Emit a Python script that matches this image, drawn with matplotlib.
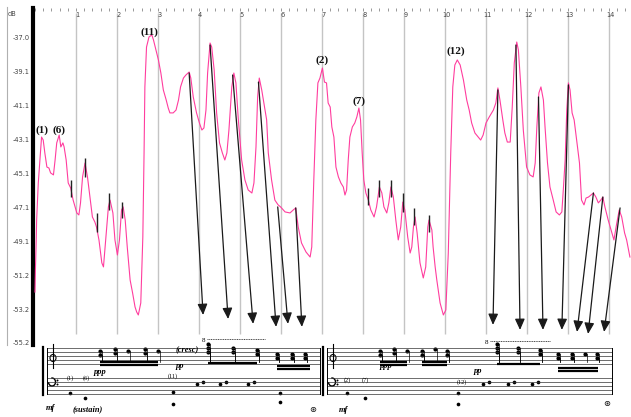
import numpy as np
import matplotlib.pyplot as plt
from matplotlib.lines import Line2D
from matplotlib.patches import Ellipse, Arc

# loudness envelope: time (s) and level (dB)
t = [0.00, 0.01, 0.03, 0.04, 0.08, 0.12, 0.16, 0.20, 0.24, 0.29, 0.34, 0.38, 0.45, 0.49, 0.53, 0.59,
     0.63, 0.68, 0.71, 0.76, 0.81, 0.87, 0.93, 1.02, 1.07, 1.11, 1.16, 1.22, 1.28, 1.34, 1.40, 1.46,
     1.50, 1.56, 1.63, 1.67, 1.73, 1.79, 1.83, 1.90, 1.95, 2.01, 2.06, 2.11, 2.15, 2.20, 2.25, 2.32,
     2.38, 2.44, 2.48, 2.52, 2.58, 2.63, 2.66, 2.68, 2.72, 2.78, 2.85, 2.89, 2.95, 3.01, 3.07, 3.13,
     3.20, 3.25, 3.29, 3.37, 3.44, 3.50, 3.55, 3.62, 3.68, 3.76, 3.80, 3.86, 3.94, 4.01, 4.07, 4.12,
     4.17, 4.21, 4.27, 4.31, 4.37, 4.43, 4.50, 4.57, 4.63, 4.68, 4.73, 4.80, 4.85, 4.90, 4.96, 5.04,
     5.12, 5.20, 5.29, 5.34, 5.39, 5.43, 5.47, 5.53, 5.61, 5.65, 5.69, 5.77, 5.85, 5.93, 5.99, 6.10,
     6.22, 6.30, 6.36, 6.42, 6.50, 6.61, 6.71, 6.75, 6.80, 6.85, 6.90, 6.95, 7.01, 7.06, 7.11, 7.15,
     7.20, 7.24, 7.29, 7.34, 7.40, 7.46, 7.52, 7.56, 7.60, 7.64, 7.68, 7.74, 7.80, 7.85, 7.90, 7.94,
     7.98, 8.02, 8.07, 8.13, 8.19, 8.27, 8.33, 8.40, 8.46, 8.51, 8.58, 8.63, 8.68, 8.74, 8.80, 8.86,
     8.92, 8.97, 9.02, 9.09, 9.15, 9.19, 9.23, 9.27, 9.32, 9.39, 9.47, 9.53, 9.58, 9.61, 9.68, 9.71,
     9.76, 9.80, 9.88, 9.96, 10.02, 10.08, 10.14, 10.19, 10.24, 10.30, 10.37, 10.45, 10.53, 10.59,
     10.65, 10.73, 10.81, 10.87, 10.93, 11.00, 11.08, 11.18, 11.24, 11.29, 11.34, 11.41, 11.46, 11.52,
     11.59, 11.64, 11.69, 11.75, 11.79, 11.85, 11.91, 11.99, 12.07, 12.15, 12.20, 12.24, 12.29, 12.34,
     12.40, 12.44, 12.50, 12.56, 12.64, 12.71, 12.79, 12.85, 12.89, 12.93, 12.97, 13.01, 13.05, 13.10,
     13.15, 13.21, 13.28, 13.33, 13.39, 13.44, 13.50, 13.56, 13.62, 13.68, 13.74, 13.80, 13.85, 13.90,
     13.98, 14.05, 14.12, 14.19, 14.25, 14.31, 14.38, 14.43, 14.51]
db = [-52.16, -50.84, -49.05, -47.86, -45.65, -44.28, -42.91, -43.09, -43.86, -44.70, -44.76, -45.05,
      -45.17, -44.28, -43.26, -42.79, -43.50, -43.26, -43.50, -44.28, -45.65, -45.95, -46.67, -47.44,
      -47.56, -46.84, -45.29, -44.46, -45.29, -46.49, -47.68, -47.98, -48.28, -49.05, -50.42, -50.66,
      -48.87, -47.08, -46.67, -47.44, -49.05, -49.95, -49.05, -47.26, -47.08, -47.86, -49.47, -51.44,
      -52.21, -53.05, -53.35, -53.53, -52.81, -48.87, -43.86, -39.92, -37.54, -36.94, -36.82, -37.12,
      -37.72, -38.31, -39.09, -40.10, -40.70, -41.18, -41.47, -41.47, -41.30, -40.70, -39.92, -39.39,
      -39.21, -39.03, -39.39, -40.52, -41.47, -42.07, -42.49, -42.37, -41.30, -39.09, -37.30, -37.54,
      -38.91, -41.47, -43.26, -43.86, -44.28, -43.86, -42.49, -39.92, -39.09, -39.68, -41.89, -44.28,
      -45.47, -46.07, -46.25, -45.65, -43.50, -40.52, -39.39, -40.10, -41.30, -41.89, -43.86, -45.47,
      -46.67, -46.96, -47.08, -47.38, -47.44, -47.26, -47.14, -48.28, -49.23, -49.77, -50.07, -49.47,
      -45.47, -41.89, -39.68, -39.39, -38.79, -39.63, -39.68, -40.88, -41.12, -42.31, -42.91, -44.70,
      -45.29, -45.65, -45.89, -46.37, -46.07, -44.28, -42.91, -42.31, -42.07, -41.71, -41.18, -41.89,
      -43.86, -45.47, -46.25, -46.67, -47.26, -47.68, -47.08, -45.89, -46.25, -47.08, -47.44, -46.84,
      -45.89, -46.49, -47.86, -49.05, -48.28, -46.79, -47.26, -48.87, -49.83, -49.47, -48.28, -47.68,
      -48.63, -50.42, -51.32, -50.66, -48.28, -47.86, -48.46, -49.47, -50.66, -51.44, -52.81, -53.53,
      -53.23, -49.83, -43.86, -39.92, -38.61, -38.31, -38.61, -39.51, -40.70, -41.30, -42.07, -42.67,
      -42.91, -43.09, -42.79, -42.07, -41.71, -41.30, -40.88, -39.98, -40.70, -41.89, -42.67, -43.21,
      -43.21, -41.12, -38.49, -37.24, -37.72, -39.92, -42.49, -44.70, -45.17, -45.29, -44.46, -42.31,
      -40.28, -39.92, -40.70, -42.31, -44.46, -45.89, -46.67, -47.38, -47.56, -47.38, -45.89, -44.28,
      -41.30, -39.68, -40.10, -41.47, -41.89, -43.09, -44.46, -46.67, -46.96, -46.55, -46.49, -46.37,
      -46.25, -46.49, -46.84, -46.67, -46.49, -47.08, -47.86, -48.46, -49.05, -48.04, -47.26, -47.68,
      -48.63, -49.05, -50.07]

# arrows from the envelope peaks down to the notes of the score
arrow_t0 = [3.76, 4.27, 4.82, 5.45, 5.92, 6.36, 11.29, 11.73, 12.28, 13.01, 13.62, 13.85, 14.27]
arrow_db0 = [-39.09, -37.42, -39.21, -39.63, -47.08, -47.14, -40.10, -37.42, -40.52, -39.80, -46.25, -46.49, -47.14]
arrow_t1 = [4.10, 4.71, 5.32, 5.88, 6.17, 6.51, 11.17, 11.83, 12.39, 12.85, 13.22, 13.49, 13.88]
arrow_db1 = [-53.53, -53.77, -54.06, -54.24, -54.06, -54.24, -54.12, -54.42, -54.42, -54.42, -54.54, -54.66, -54.54]

# short onset markers on the envelope
onset_t = [0.87, 1.22, 1.50, 1.81, 2.13, 8.13, 8.40, 8.68, 8.97, 9.25, 9.60]
onset_top = [-45.47, -44.16, -47.44, -46.25, -46.79, -45.95, -45.47, -45.47, -46.25, -47.14, -47.56]
onset_bot = [-46.49, -45.29, -48.58, -47.26, -47.74, -46.96, -46.49, -46.49, -47.38, -48.16, -48.58]

peak_labels = ['(1)', '(6)', '(11)', '(2)', '(7)', '(12)']
peak_t = [0.17, 0.59, 2.80, 7.00, 7.90, 10.27]
peak_db = [-42.5, -42.5, -36.64, -38.31, -40.76, -37.78]

ytick_labels = ['-37.0', '-39.1', '-41.1', '-43.1', '-45.1', '-47.1', '-49.1', '-51.2', '-53.2', '-55.2']
seconds = list(range(1, 15))

# score (drawn in figure pixel units, y down)
systems = [(47, 320), (327, 612)]
treble_lines = [348, 352, 356, 360, 364]
bass_lines = [378, 382, 386, 390, 394]
beams = [(100, 158, 362), (100, 158, 364.5), (208, 257, 363), (277, 310, 366), (277, 310, 369),
         (380, 407, 362), (380, 407, 364.5), (422, 447, 362), (422, 447, 364.5), (497, 540, 364),
         (558, 598, 368), (558, 598, 371)]
head_x = [100, 100, 115, 115, 128, 145, 145, 158, 208, 208, 208, 233, 233, 257, 257, 277, 277, 292, 292, 305, 305,
          380, 380, 394, 394, 407, 422, 422, 435, 447, 447, 497, 497, 497, 518, 518, 540, 540,
          558, 558, 572, 572, 585, 597, 597]
head_y = [351, 355, 349, 353, 351, 349, 353, 351, 344, 348, 352, 348, 352, 350, 354, 354, 358, 354, 358, 354, 358,
          351, 355, 349, 353, 351, 351, 355, 349, 351, 355, 344, 348, 352, 348, 352, 350, 354,
          354, 358, 354, 358, 354, 354, 358]
bass_head_x = [70, 85, 173, 173, 280, 280, 347, 365, 458, 458, 197, 203, 220, 226, 248, 254, 483, 489, 508, 514, 532, 538]
bass_head_y = [393, 398, 392, 404, 393, 402, 393, 398, 393, 404, 384, 382, 384, 382, 384, 382, 384, 382, 384, 382, 384, 382]
score_text = [('ppp', 100, 372), ('pp', 180, 366), ('(cresc)', 187, 350), ('mf', 50, 408),
              ('(sustain)', 88, 409), ('ppp', 386, 366), ('pp', 478, 371), ('mf', 343, 410)]
score_nums = [('(1)', 70, 378), ('(6)', 86, 378), ('(11)', 173, 376), ('(2)', 347, 380), ('(7)', 365, 380), ('(12)', 462, 382)]

W, H = 631, 417
fig = plt.figure(figsize=(W / 100, H / 100), dpi=100)
pink = '#ff3d9e'

ax = fig.add_axes([33 / W, 1 - 345 / H, (W - 33) / W, (345 - 8) / H])
ax.patch.set_visible(False)
ax.set_xlim(-2 / 41, (W - 35) / 41)
ax.set_ylim(-55.32, -35.21)

ax.vlines(seconds, -54.65, -35.5, color='#c4c4c4', lw=1.0, zorder=1)
ax.plot(t, db, color=pink, lw=0.8, zorder=3)
ax.vlines(onset_t, onset_bot, onset_top, color='#222222', lw=1.0, zorder=4)
for a, b, c, d in zip(arrow_t0, arrow_db0, arrow_t1, arrow_db1):
    ax.annotate('', xy=(c, d), xytext=(a, b),
                arrowprops=dict(arrowstyle='-|>,head_length=0.6,head_width=0.27', color='#1a1a1a',
                                lw=0.9, mutation_scale=11, shrinkA=0, shrinkB=0), zorder=5)
for lab, x, y in zip(peak_labels, peak_t, peak_db):
    ax.text(x, y, lab, ha='center', va='center', fontsize=8, fontweight='bold',
            family='Liberation Serif', color='#111111', zorder=6)

for s in seconds:
    ax.text(s + 0.03, -35.62, str(s), ha='center', va='center', fontsize=4.8, color='#444444')
ax.text(-0.55, -35.55, 'dB', ha='center', va='center', fontsize=4.8, color='#444444')

ax.set_yticks(np.linspace(-37.0, -55.2, 10))
ax.set_yticklabels(ytick_labels)
ax.set_xticks(seconds)
ax.set_xticks(np.arange(0, 14.6, 0.2), minor=True)
ax.tick_params(axis='y', length=0, labelsize=4.8, labelcolor='#444444', pad=2.5)
ax.tick_params(axis='x', which='both', top=True, bottom=False, labelbottom=False, labeltop=False,
               direction='in', length=2.5, width=0.6, color='#888888')
for side in ['top', 'right', 'bottom']:
    ax.spines[side].set_visible(False)
ax.spines['left'].set_linewidth(3.0)
ax.spines['left'].set_color('black')
fig.add_artist(Line2D([7 / W, 7 / W], [1 - 345 / H, 1 - 7 / H], color='#b0b0b0', lw=0.8))

# score strip
sc = fig.add_axes([0, 0, 1, (H - 338) / H])
sc.patch.set_visible(False)
sc.set_xlim(0, W)
sc.set_ylim(H, 338)
sc.axis('off')
for x0, x1 in systems:
    for y in treble_lines + bass_lines:
        sc.plot([x0, x1], [y, y], color='#333333', lw=0.5)
    sc.plot([x0, x0], [treble_lines[0], bass_lines[-1]], color='black', lw=0.7)
    sc.plot([x1, x1], [treble_lines[0], bass_lines[-1]], color='black', lw=0.7)
    sc.plot([x0 - 4, x0 - 4], [treble_lines[0] - 1, bass_lines[-1] + 1], color='black', lw=1.6)
    # clefs drawn as small shapes (no installed font has the glyphs)
    sc.plot([x0 + 6, x0 + 6], [344, 368], color='black', lw=0.8)
    sc.add_patch(Ellipse((x0 + 6, 358), 6, 7, fill=False, ec='black', lw=0.8))
    sc.add_patch(Arc((x0 + 5, 382), 7, 8, theta1=-100, theta2=180, ec='black', lw=1.0))
    sc.scatter([x0 + 10, x0 + 10], [380, 384], s=2, color='black', linewidths=0)
for x0, x1, y in beams:
    sc.plot([x0, x1], [y, y], color='black', lw=1.6, solid_capstyle='butt')
sc.scatter(head_x, head_y, s=9, marker='o', color='black', linewidths=0)
sc.scatter(bass_head_x, bass_head_y, s=7, marker='o', color='black', linewidths=0)
for hx, hy in zip(head_x, head_y):
    sc.plot([hx + 1.5, hx + 1.5], [hy, 362], color='black', lw=0.5)
for lab, x, y in score_text:
    sc.text(x, y, lab, fontsize=6, style='italic', fontweight='bold', family='Liberation Serif',
            ha='center', va='center')
for lab, x, y in score_nums:
    sc.text(x, y, lab, fontsize=4.5, family='Liberation Serif', ha='center', va='center')
for xs, y in [((207, 265), 339), ((490, 550), 341)]:
    sc.plot(xs, [y, y], color='black', lw=0.5, ls=(0, (1.5, 1)))
    sc.text(xs[0] - 2, y + 1, '8', fontsize=5, family='Liberation Serif', ha='right', va='center')
sc.text(313, 410, '\u229b', fontsize=6, ha='center', va='center')
sc.text(607, 404, '\u229b', fontsize=6, ha='center', va='center')

fig.savefig('out.png', dpi=100)
